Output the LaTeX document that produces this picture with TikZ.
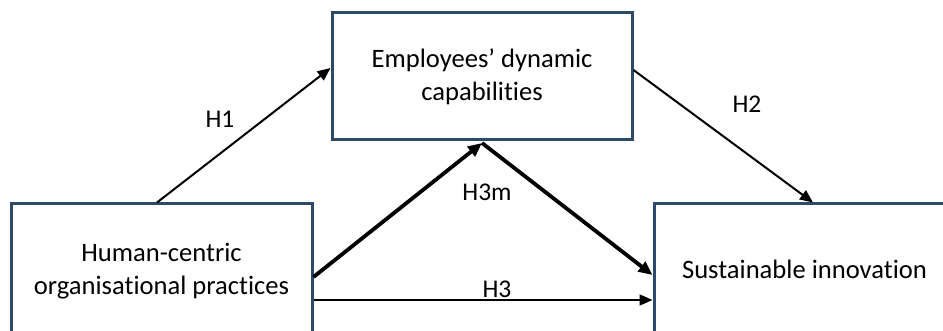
\documentclass[tikz,border=0pt]{standalone}
\usepackage{fontspec}
\setmainfont{Carlito}[Ligatures=NoCommon]
\usetikzlibrary{arrows.meta,calc}
\definecolor{boxblue}{HTML}{2E4A6B}
\begin{document}
\begin{tikzpicture}[x=1pt,y=-1pt,
  box/.style={draw=boxblue,line width=3pt,fill=white,rectangle,align=center,inner sep=0pt,
    font=\fontsize{26.6}{33}\selectfont},
  lab/.style={font=\fontsize{25.5}{28}\selectfont,inner sep=0pt},
  thin/.style={line width=2pt,-{Triangle[length=13pt,width=11pt]}},
  thick/.style={line width=3.8pt,-{Triangle[length=14pt,width=12pt]}}]
\useasboundingbox (0,0) rectangle (943,331);
\begin{scope}
\clip (0,0) rectangle (943,331);
\node[box,minimum width=300pt,minimum height=127pt] (tb) at (482,76.5) {Employees’ dynamic\\capabilities};
\node[box,minimum width=301pt,minimum height=134pt] (lb) at (161.5,271) {Human-centric\\organisational practices};
\node[box,minimum width=301pt,minimum height=130pt] (rb) at (804.5,269) {Sustainable innovation};
\end{scope}
\draw[thin] ($(lb.north)+(-4.5,0)$) -- ($(tb.west)+(0,-8.5)$);
\draw[thin] ($(tb.east)+(0,-6.5)$) -- ($(rb.north)+(8.5,0)$);
\draw[thick] ($(lb.east)+(0,6)$) -- ($(tb.south)+(0,1.5)$);
\draw[thick] ($(tb.south)+(0,1.5)$) -- ($(rb.west)+(0,6)$);
\draw[thin] ($(lb.east)+(0,29)$) coordinate (h3s) -- (rb.west |- h3s);
\node[lab] (l1) at (220,119) {H1};
\node[lab] (l2) at (747,104) {H2};
\node[lab] (l3m) at (487,192) {H3m};
\node[lab] (l3) at (497,289) {H3};
\end{tikzpicture}
\end{document}
